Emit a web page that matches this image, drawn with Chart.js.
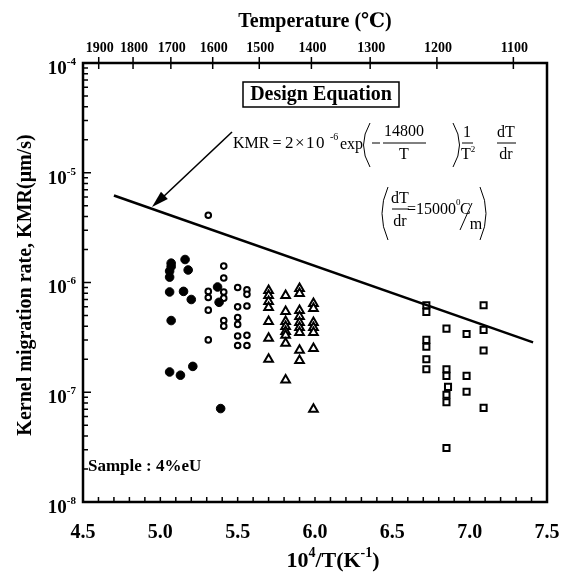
<!DOCTYPE html>
<html>
<head>
<meta charset="utf-8">
<script src="https://cdn.jsdelivr.net/npm/chart.js@4.4.1/dist/chart.umd.min.js"></script>
<style>
  html, body { margin: 0; padding: 0; background: #fff; }
  #wrap { width: 576px; height: 576px; }
</style>
</head>
<body>
<div id="wrap"><canvas id="kmr" width="576" height="576"></canvas></div>
<script>
// axis ticks
var xTicks = [4.5, 5.0, 5.5, 6.0, 6.5, 7.0, 7.5];
var yDecades = [-8, -7, -6, -5, -4];
var tempTicks = [1900, 1800, 1700, 1600, 1500, 1400, 1300, 1200, 1100];

// measured data, [10^4/T, KMR]
var filledCircles = [
  [5.07, 1.50e-6], [5.07, 1.40e-6], [5.06, 1.27e-6], [5.06, 1.12e-6],
  [5.16, 1.62e-6], [5.18, 1.30e-6], [5.06, 8.2e-7], [5.15, 8.3e-7],
  [5.20, 7.0e-7], [5.07, 4.5e-7], [5.06, 1.53e-7], [5.13, 1.43e-7],
  [5.21, 1.72e-7], [5.37, 9.1e-7], [5.38, 6.6e-7], [5.39, 7.1e-8]
];
var openCircles = [
  [5.31, 4.1e-6], [5.41, 1.41e-6], [5.41, 1.10e-6], [5.31, 8.3e-7],
  [5.31, 7.3e-7], [5.31, 5.6e-7], [5.41, 8.2e-7], [5.41, 7.2e-7],
  [5.41, 4.5e-7], [5.41, 4.0e-7], [5.31, 3.0e-7], [5.50, 9.0e-7],
  [5.56, 8.6e-7], [5.56, 7.8e-7], [5.50, 6.0e-7], [5.56, 6.1e-7],
  [5.50, 4.8e-7], [5.50, 4.15e-7], [5.50, 3.25e-7], [5.56, 3.3e-7],
  [5.56, 2.67e-7], [5.50, 2.67e-7]
];
var triangles = [
  [5.70, 8.46e-7], [5.70, 7.62e-7], [5.70, 6.72e-7], [5.70, 5.93e-7],
  [5.70, 4.42e-7], [5.70, 3.10e-7], [5.70, 2.00e-7],
  [5.81, 7.62e-7], [5.81, 5.45e-7], [5.81, 4.42e-7], [5.81, 3.98e-7],
  [5.81, 3.58e-7], [5.81, 3.30e-7], [5.81, 2.79e-7], [5.81, 1.29e-7],
  [5.90, 8.82e-7], [5.90, 7.94e-7], [5.90, 5.57e-7], [5.90, 4.91e-7],
  [5.90, 4.33e-7], [5.90, 3.90e-7], [5.90, 3.51e-7], [5.90, 2.41e-7],
  [5.90, 1.95e-7],
  [5.99, 6.44e-7], [5.99, 5.80e-7], [5.99, 4.33e-7], [5.99, 3.90e-7],
  [5.99, 3.51e-7], [5.99, 2.51e-7], [5.99, 7.0e-8]
];
var squares = [
  [6.72, 6.2e-7], [6.72, 5.4e-7], [6.72, 3.0e-7], [6.72, 2.6e-7],
  [6.72, 2.0e-7], [6.72, 1.62e-7],
  [6.85, 3.8e-7], [6.85, 1.62e-7], [6.85, 1.41e-7], [6.86, 1.12e-7],
  [6.85, 9.5e-8], [6.85, 8.1e-8], [6.85, 3.1e-8],
  [6.98, 3.4e-7], [6.98, 1.41e-7], [6.98, 1.01e-7],
  [7.09, 6.2e-7], [7.09, 3.7e-7], [7.09, 2.4e-7], [7.09, 7.2e-8]
];
// design equation line
var designX = [4.70, 7.41];
var designY = [6.2e-6, 2.85e-7];

function pts(list) {
  return list.map(function(p) { return { x: p[0], y: p[1] }; });
}

var SERIF = '"Liberation Serif", "DejaVu Serif", serif';

function supText(ctx, parts, x, y, align) {
  // parts: [text, size, raise]
  var w = 0;
  parts.forEach(function(p) { ctx.font = 'bold ' + p[1] + 'px ' + SERIF; w += ctx.measureText(p[0]).width; });
  var cx = align === 'right' ? x - w : (align === 'center' ? x - w / 2 : x);
  ctx.textAlign = 'left';
  parts.forEach(function(p) {
    ctx.font = 'bold ' + p[1] + 'px ' + SERIF;
    ctx.fillText(p[0], cx, y - p[2]);
    cx += ctx.measureText(p[0]).width;
  });
}

function paren(ctx, x1, y1, xm, y2) {
  ctx.beginPath();
  ctx.moveTo(x1, y1);
  ctx.quadraticCurveTo(xm, (y1 + y2) / 2, x1, y2);
  ctx.stroke();
}

var frame = {
  id: 'frame',
  afterDatasetsDraw: function(chart) {
    var ctx = chart.ctx, a = chart.chartArea;
    var sx = chart.scales.x, sy = chart.scales.y, st = chart.scales.xTop;
    ctx.save();
    ctx.strokeStyle = '#000';
    ctx.fillStyle = '#000';

    // ticks
    ctx.lineWidth = 1.5;
    ctx.beginPath();
    for (var i = 1; i < 30; i++) {
      var px = sx.getPixelForValue(4.5 + i * 0.1);
      ctx.moveTo(px, a.bottom); ctx.lineTo(px, a.bottom - 5);
    }
    for (var d = -8; d < -4 + 1; d++) {
      for (var m = 1; m < 10; m++) {
        if (d === -4 && m > 1) break;
        var py = sy.getPixelForValue(m * Math.pow(10, d));
        ctx.moveTo(a.left, py); ctx.lineTo(a.left + (m === 1 ? 8 : 5), py);
      }
    }
    tempTicks.forEach(function(t) {
      var px = st.getPixelForValue(1e4 / (t + 273.15));
      ctx.moveTo(px, a.top - 6); ctx.lineTo(px, a.top + 6);
    });
    ctx.stroke();

    ctx.lineWidth = 2.5;
    ctx.strokeRect(a.left, a.top, a.right - a.left, a.bottom - a.top);

    // tick labels
    ctx.textBaseline = 'middle';
    ctx.textAlign = 'center';
    ctx.font = 'bold 20px ' + SERIF;
    xTicks.forEach(function(v) {
      ctx.fillText(v.toFixed(1), sx.getPixelForValue(v), a.bottom + 31);
    });
    ctx.font = 'bold 14px ' + SERIF;
    tempTicks.forEach(function(t) {
      ctx.fillText(String(t), st.getPixelForValue(1e4 / (t + 273.15)) + 1, a.top - 15);
    });
    yDecades.forEach(function(dd) {
      var py = sy.getPixelForValue(Math.pow(10, dd));
      supText(ctx, [['10', 19, 0], [String(dd), 11, 7]], a.left - 7, py + 6, 'right');
    });

    // axis titles
    ctx.textAlign = 'center';
    ctx.font = 'bold 20px ' + SERIF;
    ctx.fillText('Temperature (\u2103)', 315, 22);
    supText(ctx, [['10', 22, 0], ['4', 14, 8], ['/T(K', 22, 0], ['-1', 14, 8], [')', 22, 0]], 333, 561, 'center');
    ctx.save();
    ctx.translate(26, 285);
    ctx.rotate(-Math.PI / 2);
    ctx.textAlign = 'center';
    ctx.font = 'bold 20px ' + SERIF;
    ctx.fillText('Kernel migration rate, KMR(\u03bcm/s)', 0, 0);
    ctx.restore();

    // sample note
    ctx.textAlign = 'left';
    ctx.font = 'bold 17px ' + SERIF;
    ctx.fillText('Sample : 4%eU', 88, 467);

    // design equation box
    ctx.lineWidth = 1.5;
    ctx.strokeRect(243, 82, 156, 25);
    ctx.textAlign = 'center';
    ctx.font = 'bold 20px ' + SERIF;
    ctx.fillText('Design Equation', 321, 95);

    // arrow to line
    ctx.lineWidth = 1.6;
    ctx.beginPath();
    ctx.moveTo(232, 132); ctx.lineTo(162, 198);
    ctx.stroke();
    var ang = Math.atan2(207 - 132, 152 - 232);
    ctx.beginPath();
    ctx.moveTo(152, 207);
    ctx.lineTo(152 - 17 * Math.cos(ang) + 5 * Math.sin(ang), 207 - 17 * Math.sin(ang) - 5 * Math.cos(ang));
    ctx.lineTo(152 - 17 * Math.cos(ang) - 5 * Math.sin(ang), 207 - 17 * Math.sin(ang) + 5 * Math.cos(ang));
    ctx.closePath();
    ctx.fill();

    // equation text
    ctx.font = '16px ' + SERIF;
    ctx.textAlign = 'left';
    ctx.fillText('KMR', 233, 144);
    ctx.textAlign = 'center';
    ctx.fillText('=', 277, 144);
    ctx.textAlign = 'left';
    ctx.font = '17px ' + SERIF;
    ctx.letterSpacing = '1.5px';
    ctx.fillText('2\u00d710', 285, 144);
    ctx.letterSpacing = '0px';
    ctx.font = '10px ' + SERIF;
    ctx.fillText('-6', 330, 137);
    ctx.font = '16px ' + SERIF;
    ctx.fillText('exp', 340, 145);
    ctx.lineWidth = 1;
    paren(ctx, 370, 123, 357, 167);
    paren(ctx, 453, 123, 466, 167);
    ctx.beginPath();
    ctx.moveTo(372, 143); ctx.lineTo(380, 143);
    ctx.moveTo(383, 143); ctx.lineTo(426, 143);
    ctx.moveTo(462, 143); ctx.lineTo(473, 143);
    ctx.moveTo(497, 143); ctx.lineTo(516, 143);
    ctx.stroke();
    ctx.textAlign = 'center';
    ctx.fillText('14800', 404, 132);
    ctx.fillText('T', 404, 155);
    ctx.fillText('1', 467, 133);
    ctx.fillText('T', 466, 155);
    ctx.fillText('dT', 506, 133);
    ctx.fillText('dr', 506, 155);
    ctx.font = '9px ' + SERIF;
    ctx.fillText('2', 473, 150);

    // second line
    ctx.font = '16px ' + SERIF;
    paren(ctx, 388, 187, 376, 240);
    paren(ctx, 480, 187, 492, 240);
    ctx.beginPath();
    ctx.moveTo(392, 209); ctx.lineTo(409, 209);
    ctx.moveTo(460, 230); ctx.lineTo(472, 203);
    ctx.stroke();
    ctx.fillText('dT', 400, 199);
    ctx.fillText('dr', 400, 222);
    ctx.textAlign = 'left';
    ctx.fillText('=15000', 407, 210);
    ctx.font = '9px ' + SERIF;
    ctx.fillText('0', 456, 203);
    ctx.font = '16px ' + SERIF;
    ctx.fillText('C', 460, 210);
    ctx.textAlign = 'center';
    ctx.fillText('m', 476, 225);

    ctx.restore();
  }
};

new Chart(document.getElementById('kmr'), {
  type: 'scatter',
  data: {
    datasets: [{
      label: 'Design equation',
      type: 'line',
      data: designX.map(function(x, i) { return { x: x, y: designY[i] }; }),
      borderColor: '#000',
      borderWidth: 2.5,
      pointRadius: 0,
      fill: false
    }, {
      label: 'filled circle',
      data: pts(filledCircles),
      pointStyle: 'circle',
      pointRadius: 4.3,
      backgroundColor: '#000',
      borderColor: '#000',
      borderWidth: 1
    }, {
      label: 'open circle',
      data: pts(openCircles),
      pointStyle: 'circle',
      pointRadius: 2.8,
      backgroundColor: '#fff',
      borderColor: '#000',
      borderWidth: 2
    }, {
      label: 'triangle',
      data: pts(triangles),
      pointStyle: 'triangle',
      pointRadius: 5,
      backgroundColor: '#fff',
      borderColor: '#000',
      borderWidth: 2
    }, {
      label: 'square',
      data: pts(squares),
      pointStyle: 'rect',
      pointRadius: 4.3,
      backgroundColor: '#fff',
      borderColor: '#000',
      borderWidth: 2
    }]
  },
  options: {
    responsive: false,
    animation: false,
    devicePixelRatio: 1,
    layout: { padding: { right: 29, left: 0, top: 0, bottom: 0 } },
    plugins: {
      legend: { display: false },
      tooltip: { enabled: false }
    },
    scales: {
      x: {
        type: 'linear', position: 'bottom', min: 4.5, max: 7.5,
        grid: { display: false }, border: { display: false },
        ticks: { display: false },
        afterFit: function(s) { s.height = 74; }
      },
      xTop: {
        type: 'linear', axis: 'x', position: 'top', min: 4.5, max: 7.5,
        grid: { display: false }, border: { display: false },
        ticks: { display: false },
        afterFit: function(s) { s.height = 63; }
      },
      y: {
        type: 'logarithmic', min: 1e-8, max: 1e-4,
        grid: { display: false }, border: { display: false },
        ticks: { display: false },
        afterFit: function(s) { s.width = 83; }
      }
    }
  },
  plugins: [frame]
});
</script>
</body>
</html>
